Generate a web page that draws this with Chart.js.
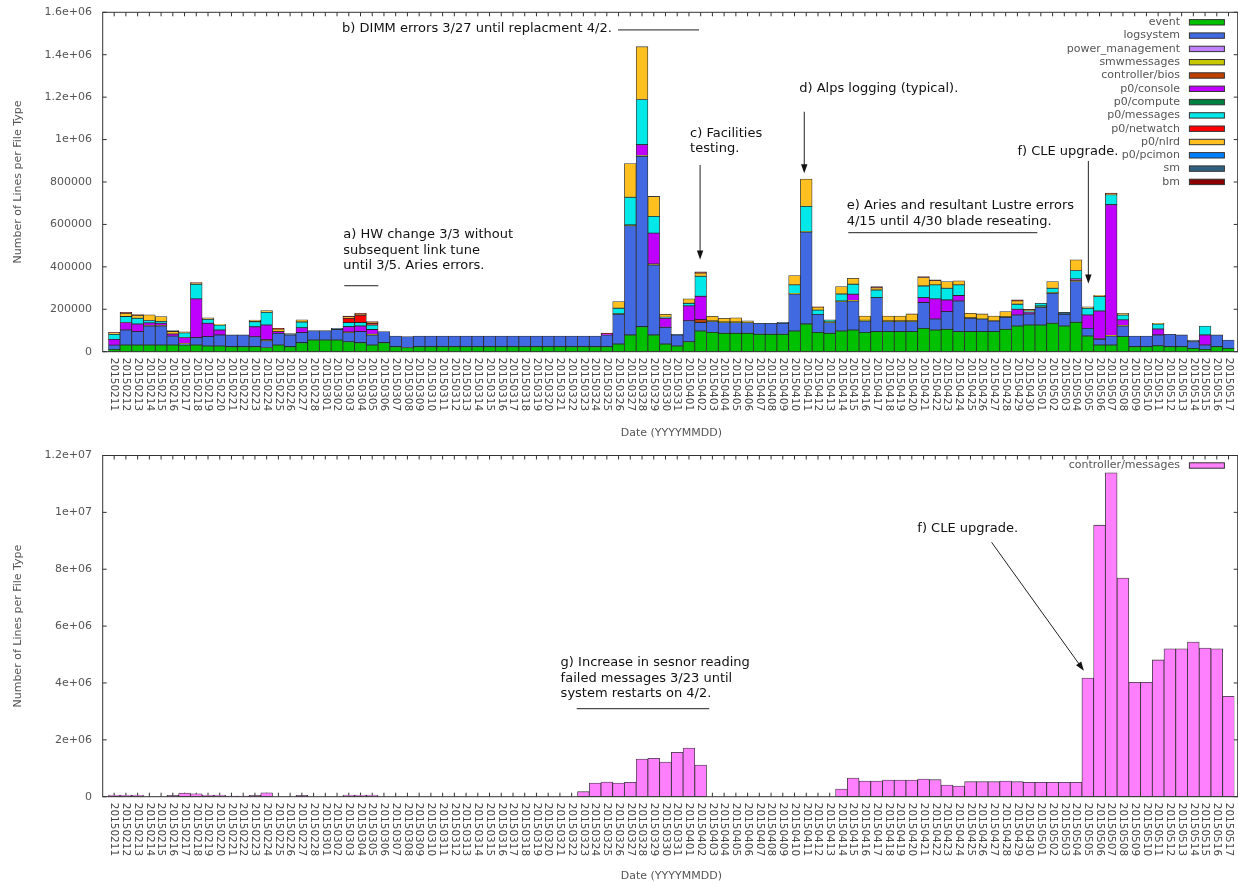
<!DOCTYPE html>
<html>
<head>
<meta charset="utf-8">
<title>Log lines per file type</title>
<script src="https://cdn.jsdelivr.net/npm/chart.js@4.4.1/dist/chart.umd.min.js"></script>
<style>
  html, body { margin: 0; padding: 0; background: #fff; }
  canvas { position: absolute; left: 0; }
  #top { top: 0; }
  #bottom { top: 445px; }
</style>
</head>
<body>
<canvas id="top" width="1238" height="445"></canvas>
<canvas id="bottom" width="1238" height="438"></canvas>
<script>
// one category per day
const dates = [
  '20150211', '20150212', '20150213', '20150214', '20150215', '20150216', '20150217', '20150218', '20150219',
  '20150220', '20150221', '20150222', '20150223', '20150224', '20150225', '20150226', '20150227', '20150228',
  '20150301', '20150302', '20150303', '20150304', '20150305', '20150306', '20150307', '20150308', '20150309',
  '20150310', '20150311', '20150312', '20150313', '20150314', '20150315', '20150316', '20150317', '20150318',
  '20150319', '20150320', '20150321', '20150322', '20150323', '20150324', '20150325', '20150326', '20150327',
  '20150328', '20150329', '20150330', '20150331',
  '20150401', '20150402', '20150403', '20150404', '20150405', '20150406', '20150407', '20150408', '20150409',
  '20150410', '20150411', '20150412', '20150413', '20150414', '20150415', '20150416', '20150417', '20150418',
  '20150419', '20150420', '20150421', '20150422', '20150423', '20150424', '20150425', '20150426', '20150427',
  '20150428', '20150429', '20150430',
  '20150501', '20150502', '20150503', '20150504', '20150505', '20150506', '20150507', '20150508', '20150509',
  '20150510', '20150511', '20150512', '20150513', '20150514', '20150515', '20150516', '20150517'
];

// lines per day for each file type (rows: Feb / Mar / Apr / May)
const event = [
  11000, 31500, 31500, 31500, 31500, 31500, 31000, 31500, 27000, 27000, 23600, 23600, 23600, 20000, 31500, 23600, 42500, 55000,
  55000, 55000, 47000, 42500, 31500, 42500, 23600, 20000, 23600, 23600, 23600, 23600, 23600, 23600, 23600, 23600,
  23600, 23600, 23600, 23600, 23600, 23600, 23600, 23600, 23600, 36000, 79000, 118000, 79000, 36000, 27000,
  47000, 97600, 91000, 86600, 86600, 86600, 82000, 82000, 82000, 97600, 131000, 91000, 86600, 97600, 102000,
  91000, 94500, 94500, 94500, 94500, 110000, 102000, 105500, 94500, 94500, 94500, 94500, 105500, 121000, 126000,
  126000, 134000, 121000, 138600, 74000, 31500, 31500, 71000, 23600, 23600, 28000, 23600, 23600, 15700, 11000, 23600, 15700
];
const logsystem = [
  20000, 71000, 63000, 89500, 89500, 42000, 5000, 34500, 44000, 52000, 55400, 55400, 47000, 32000, 55000, 55000, 47500, 44000,
  44000, 50000, 43000, 52000, 47500, 52000, 50000, 51000, 50400, 50400, 50400, 50400, 50400, 50400, 50400, 50400,
  50400, 50400, 50400, 50400, 50400, 50400, 50400, 50400, 55000, 140000, 515000, 803000, 330000, 79000, 52000,
  99000, 39400, 51000, 50400, 50400, 50400, 52000, 52000, 52000, 174400, 433000, 85000, 50400, 138400, 137000,
  54000, 160500, 47500, 47500, 47500, 121500, 52000, 83500, 144500, 63000, 59500, 50500, 56500, 52000, 52000,
  83000, 141600, 55000, 192400, 36000, 26500, 42500, 50000, 50400, 50400, 51000, 58400, 55400, 31300, 20500, 55400, 39300
];
const powerManagement = [
  0, 0, 0, 0, 0, 0, 0, 0, 0, 0, 0, 0, 0, 0, 0, 0, 0, 0,
  0, 0, 0, 0, 0, 0, 0, 0, 0, 0, 0, 0, 0, 0, 0, 0, 0, 0, 0, 0, 0, 0, 0, 0, 0, 0, 0, 0, 0, 0, 0,
  0, 0, 0, 0, 0, 0, 0, 0, 0, 0, 0, 0, 0, 0, 0, 0, 0, 0, 0, 0, 0, 0, 0, 0, 0, 0, 0, 0, 0, 0,
  0, 0, 0, 0, 0, 0, 0, 0, 0, 0, 0, 0, 0, 0, 0, 0, 0
];
const smwmessages = [
  0, 0, 0, 2000, 2000, 0, 3000, 0, 0, 0, 0, 0, 0, 4000, 0, 0, 0, 0,
  0, 0, 3000, 0, 3000, 0, 0, 0, 0, 0, 0, 0, 0, 0, 0, 0, 0, 0, 0, 0, 0, 0, 0, 0, 0, 3000, 4000, 4000, 4000, 0, 0,
  0, 0, 3000, 3000, 3000, 3000, 0, 0, 0, 3000, 3000, 0, 3000, 3000, 3000, 3000, 0, 3000, 3000, 3000, 0, 0, 0, 0, 3000, 3000, 0, 3000, 0, 0,
  3000, 3000, 0, 4000, 0, 3000, 3000, 3000, 0, 0, 0, 0, 0, 0, 0, 0, 0
];
const controllerBios = [
  0, 0, 0, 0, 0, 0, 0, 0, 0, 0, 0, 0, 0, 0, 0, 0, 0, 0,
  0, 0, 0, 0, 0, 0, 0, 0, 0, 0, 0, 0, 0, 0, 0, 0, 0, 0, 0, 0, 0, 0, 0, 0, 0, 0, 0, 0, 0, 0, 0,
  0, 14000, 0, 0, 0, 0, 0, 0, 0, 0, 0, 0, 0, 0, 0, 0, 0, 0, 0, 0, 0, 0, 0, 0, 0, 0, 0, 0, 0, 0,
  0, 0, 0, 0, 0, 0, 0, 0, 0, 0, 0, 0, 0, 0, 0, 0, 0
];
const p0Console = [
  27000, 35000, 36000, 13000, 11000, 10000, 28000, 183000, 63000, 23000, 0, 0, 47000, 70000, 8000, 0, 23000, 0,
  0, 0, 25000, 26500, 23000, 0, 0, 0, 0, 0, 0, 0, 0, 0, 0, 0, 0, 0, 0, 0, 0, 0, 0, 0, 6000, 0, 0, 51000, 146000, 42500, 0,
  70000, 110000, 0, 0, 0, 0, 0, 0, 0, 0, 0, 0, 0, 0, 29000, 0, 0, 0, 0, 0, 23500, 95000, 55000, 25600, 0, 0, 0, 0, 27000, 8000,
  0, 0, 0, 8000, 63000, 131000, 616000, 26000, 0, 0, 28000, 0, 0, 0, 47500, 0, 0
];
const p0Compute = [
  0, 0, 0, 0, 0, 0, 0, 0, 0, 0, 0, 0, 0, 0, 0, 0, 0, 0,
  0, 0, 0, 0, 0, 0, 0, 0, 0, 0, 0, 0, 0, 0, 0, 0, 0, 0, 0, 0, 0, 0, 0, 0, 0, 0, 0, 0, 0, 0, 0,
  0, 0, 0, 0, 0, 0, 0, 0, 0, 0, 0, 0, 5000, 0, 0, 0, 0, 0, 0, 0, 0, 0, 0, 0, 0, 0, 0, 0, 0, 0,
  4000, 0, 0, 0, 0, 0, 0, 0, 0, 0, 0, 0, 0, 0, 0, 0, 0
];
const p0Messages = [
  24000, 28000, 27000, 11000, 9000, 0, 22000, 69000, 19000, 24000, 0, 0, 24000, 60000, 0, 0, 27000, 0,
  0, 0, 19000, 16000, 20500, 0, 0, 0, 0, 0, 0, 0, 0, 0, 0, 0, 0, 0, 0, 0, 0, 0, 0, 0, 0, 26000, 130000, 213000, 79000, 5000, 0,
  12000, 94500, 0, 0, 0, 0, 0, 0, 0, 40000, 118000, 20000, 5000, 33000, 47000, 0, 36000, 0, 0, 0, 55000, 66000, 55000, 50400, 0, 0, 0, 0, 24000, 7000,
  12000, 20400, 0, 40000, 32000, 68000, 47000, 23000, 0, 0, 24000, 0, 0, 0, 42000, 0, 0
];
const p0Netwatch = [
  0, 0, 0, 0, 0, 0, 0, 0, 0, 0, 0, 0, 0, 0, 0, 0, 0, 0,
  0, 0, 20000, 35000, 8000, 0, 0, 0, 0, 0, 0, 0, 0, 0, 0, 0, 0, 0, 0, 0, 0, 0, 0, 0, 0, 0, 0, 0, 0, 0, 0,
  0, 0, 0, 0, 0, 0, 0, 0, 0, 0, 0, 0, 0, 0, 0, 0, 0, 0, 0, 0, 0, 0, 0, 0, 0, 0, 0, 0, 0, 0,
  0, 0, 0, 0, 0, 0, 0, 0, 0, 0, 0, 0, 0, 0, 0, 0, 0
];
const p0Nlrd = [
  6000, 16000, 14000, 27000, 23000, 12000, 5000, 5000, 7000, 3000, 0, 0, 8000, 8000, 12000, 0, 10000, 0,
  0, 0, 8000, 3000, 5000, 0, 0, 0, 0, 0, 0, 0, 0, 0, 0, 0, 0, 0, 0, 0, 0, 0, 0, 0, 0, 31000, 159000, 249000, 94000, 13500, 0,
  21000, 15000, 22000, 17000, 20000, 5000, 0, 0, 0, 44000, 129000, 14000, 0, 35000, 28000, 20500, 10000, 23500, 23500, 33000,
  40000, 20000, 32000, 19000, 20500, 21000, 23500, 24000, 16000, 5000,
  0, 32000, 0, 50000, 7000, 6000, 5000, 8000, 0, 0, 3000, 0, 0, 0, 0, 0, 0
];
const p0Pcimon = [
  0, 0, 0, 0, 0, 0, 0, 0, 0, 0, 0, 0, 0, 0, 0, 0, 0, 0,
  0, 0, 0, 0, 0, 0, 0, 0, 0, 0, 0, 0, 0, 0, 0, 0, 0, 0, 0, 0, 0, 0, 0, 0, 0, 0, 0, 0, 0, 0, 0,
  0, 0, 0, 0, 0, 0, 0, 0, 0, 0, 0, 0, 0, 0, 0, 0, 0, 0, 0, 0, 0, 0, 0, 0, 0, 0, 0, 0, 0, 0,
  0, 0, 0, 0, 0, 0, 0, 0, 0, 0, 0, 0, 0, 0, 0, 0, 0
];
const sm = [
  0, 0, 0, 0, 0, 4000, 0, 0, 0, 0, 0, 0, 0, 0, 0, 7000, 0, 0,
  0, 5000, 0, 0, 0, 0, 0, 0, 0, 0, 0, 0, 0, 0, 0, 0, 0, 0, 0, 0, 0, 0, 0, 0, 0, 0, 0, 0, 0, 0, 3000,
  0, 0, 0, 0, 0, 0, 0, 0, 5000, 0, 0, 0, 0, 0, 0, 0, 0, 0, 0, 0, 0, 0, 0, 0, 0, 0, 0, 0, 0, 0,
  0, 0, 10000, 0, 0, 0, 0, 0, 0, 0, 0, 0, 0, 8000, 0, 0, 0
];
const bm = [
  3000, 4000, 3000, 0, 0, 0, 0, 3000, 0, 0, 0, 0, 0, 0, 4000, 0, 0, 0,
  0, 0, 3000, 6000, 3000, 0, 0, 0, 0, 0, 0, 0, 0, 0, 0, 0, 0, 0, 0, 0, 0, 0, 0, 0, 3000, 0, 0, 0, 0, 0, 0,
  0, 5500, 0, 0, 0, 0, 0, 0, 0, 0, 0, 2000, 0, 0, 0, 0, 6000, 0, 0, 0, 4000, 4000, 0, 0, 0, 0, 0, 0, 4000, 2000,
  0, 0, 0, 0, 0, 0, 3000, 0, 0, 0, 0, 0, 0, 0, 0, 0, 0
];
const controllerMessages = [
  60000, 55000, 55000, 0, 0, 45000, 130000, 105000, 60000, 55000, 20000, 20000, 50000, 140000, 0, 0, 50000, 0,
  0, 0, 55000, 55000, 55000, 0, 0, 0, 0, 0, 0, 0, 0, 0, 0, 0, 0, 0, 0, 0, 0, 0,
  176000, 481000, 516000, 481000, 505000, 1326000, 1350000, 1220000, 1560000,
  1710000, 1115000, 0, 0, 0, 0, 0, 0, 0, 0, 0, 0, 0, 270000, 657000, 552000, 552000, 587000, 587000, 586000,
  622000, 598000, 410000, 375000, 528000, 528000, 528000, 551000, 528000, 504000,
  504000, 504000, 504000, 504000, 4176000, 9550000, 11390000, 7690000, 4020000, 4020000, 4810000, 5200000, 5200000,
  5440000, 5230000, 5200000, 3530000
];

const fileTypes = [
  ['event', event, '#00c000'],
  ['logsystem', logsystem, '#4169e1'],
  ['power_management', powerManagement, '#c080ff'],
  ['smwmessages', smwmessages, '#c8c800'],
  ['controller/bios', controllerBios, '#c04000'],
  ['p0/console', p0Console, '#c000ff'],
  ['p0/compute', p0Compute, '#008040'],
  ['p0/messages', p0Messages, '#00e8e8'],
  ['p0/netwatch', p0Netwatch, '#ff0000'],
  ['p0/nlrd', p0Nlrd, '#ffc020'],
  ['p0/pcimon', p0Pcimon, '#0080ff'],
  ['sm', sm, '#306080'],
  ['bm', bm, '#8b0000']
];

// annotation text, underlines and arrows, placed in data units (x = day index)
const topNotes = {
  text: [
    { lines: ['b) DIMM errors 3/27 until replacment 4/2.'], x: 19.43, y: 1522000 },
    { lines: ['a) HW change 3/3 without', 'subsequent link tune', 'until 3/5. Aries errors.'], x: 19.53, y: 550000 },
    { lines: ['c) Facilities', 'testing.'], x: 49.1, y: 1029000 },
    { lines: ['d) Alps logging (typical).'], x: 58.4, y: 1242000 },
    { lines: ['e) Aries and resultant Lustre errors', '4/15 until 4/30 blade reseating.'], x: 62.45, y: 687000 },
    { lines: ['f) CLE upgrade.'], x: 77.0, y: 943000 }
  ],
  rules: [
    { x1: 42.95, x2: 49.86, y: 1517000 },
    { x1: 19.62, x2: 22.52, y: 311000 },
    { x1: 62.58, x2: 78.7, y: 561000 }
  ],
  arrows: [
    { x1: 49.95, y1: 880000, x2: 49.95, y2: 435000 },
    { x1: 58.83, y1: 1131000, x2: 58.83, y2: 841000 },
    { x1: 83.05, y1: 899000, x2: 83.05, y2: 322000 }
  ]
};
const bottomNotes = {
  text: [
    { lines: ['f) CLE upgrade.'], x: 68.47, y: 9415000 },
    { lines: ['g) Increase in sesnor reading', 'failed messages 3/23 until', 'system restarts on 4/2.'], x: 38.06, y: 4713000 }
  ],
  rules: [
    { x1: 39.43, x2: 50.73, y: 3095000 }
  ],
  arrows: [
    { x1: 74.8, y1: 8947000, x2: 82.67, y2: 4430000 }
  ]
};

const FONT = '"DejaVu Sans", Verdana, sans-serif';
Chart.defaults.font.family = FONT;
Chart.defaults.animation = false;

// gnuplot style %g labels: 200000, 1e+06, 1.6e+06 ...
function gnuNum(v) {
  v = Math.round(v);
  if (v === 0) return '0';
  if (v < 1e6) return String(v);
  const exp = Math.floor(Math.log10(v) + 1e-9);
  const mant = +(v / Math.pow(10, exp)).toPrecision(6);
  return mant + 'e+' + String(exp).padStart(2, '0');
}

function drawArrow(ctx, x1, y1, x2, y2) {
  const ang = Math.atan2(y2 - y1, x2 - x1);
  const len = 9, half = 3.2;
  ctx.beginPath();
  ctx.moveTo(x1, y1);
  ctx.lineTo(x2 - Math.cos(ang) * len * 0.6, y2 - Math.sin(ang) * len * 0.6);
  ctx.stroke();
  ctx.beginPath();
  ctx.moveTo(x2, y2);
  ctx.lineTo(x2 - Math.cos(ang) * len - Math.sin(ang) * half, y2 - Math.sin(ang) * len + Math.cos(ang) * half);
  ctx.lineTo(x2 - Math.cos(ang) * len + Math.sin(ang) * half, y2 - Math.sin(ang) * len - Math.cos(ang) * half);
  ctx.closePath();
  ctx.fill();
}

// border box with inward ticks, tick labels, key inside the plot, notes and rotated dates
function gnuOverlay(notes) {
  const padL = 5.6, padR = 3.3, tick = 4;
  return {
    id: 'gnuOverlay',
    beforeDatasetsDraw(chart) {
      const { ctx, chartArea: a, scales: { x, y } } = chart;
      const left = a.left - padL, right = a.right + padR;
      ctx.save();
      ctx.strokeStyle = '#333';
      ctx.lineWidth = 1;
      ctx.beginPath();
      dates.forEach((d, i) => {
        const px = x.getPixelForValue(i);
        ctx.moveTo(px, a.bottom); ctx.lineTo(px, a.bottom - tick);
        ctx.moveTo(px, a.top); ctx.lineTo(px, a.top + tick);
      });
      y.ticks.forEach(t => {
        const py = y.getPixelForValue(t.value);
        ctx.moveTo(left, py); ctx.lineTo(left + tick, py);
        ctx.moveTo(right, py); ctx.lineTo(right - tick, py);
      });
      ctx.stroke();

      // y tick labels, right aligned against the frame
      ctx.fillStyle = '#555';
      ctx.font = '11px ' + FONT;
      ctx.textAlign = 'right';
      ctx.textBaseline = 'middle';
      y.ticks.forEach(t => {
        ctx.fillText(gnuNum(t.value), left - 10.8, y.getPixelForValue(t.value));
      });
      ctx.restore();
    },
    afterDatasetsDraw(chart) {
      const { ctx, chartArea: a, scales: { x, y } } = chart;
      ctx.save();
      ctx.strokeStyle = '#333';
      ctx.lineWidth = 1;
      ctx.strokeRect(a.left - padL, a.top, a.right - a.left + padL + padR, a.bottom - a.top);

      // key
      ctx.font = '11px ' + FONT;
      ctx.textAlign = 'right';
      ctx.textBaseline = 'middle';
      chart.data.datasets.forEach((ds, k) => {
        const cy = a.top + 10 + k * 13.3;
        ctx.fillStyle = ds.backgroundColor;
        ctx.fillRect(a.right - 45, cy - 2.7, 35, 5.4);
        ctx.strokeStyle = '#333';
        ctx.strokeRect(a.right - 45, cy - 2.7, 35, 5.4);
        ctx.fillStyle = '#555';
        ctx.fillText(ds.label, a.right - 54.4, cy);
      });

      // notes
      ctx.fillStyle = '#111';
      ctx.strokeStyle = '#222';
      ctx.font = '13px ' + FONT;
      ctx.textAlign = 'left';
      notes.text.forEach(n => {
        const px = x.getPixelForValue(n.x), py = y.getPixelForValue(n.y);
        n.lines.forEach((s, j) => ctx.fillText(s, px, py + j * 15.5));
      });
      notes.rules.forEach(r => {
        const py = y.getPixelForValue(r.y);
        ctx.beginPath();
        ctx.moveTo(x.getPixelForValue(r.x1), py);
        ctx.lineTo(x.getPixelForValue(r.x2), py);
        ctx.stroke();
      });
      notes.arrows.forEach(r => {
        drawArrow(ctx, x.getPixelForValue(r.x1), y.getPixelForValue(r.y1),
                  x.getPixelForValue(r.x2), y.getPixelForValue(r.y2));
      });
      ctx.restore();
    },
    afterDraw(chart) {
      const { ctx, chartArea: a, scales: { x } } = chart;
      ctx.save();
      ctx.fillStyle = '#444';
      ctx.font = '10.5px ' + FONT;
      ctx.textAlign = 'left';
      ctx.textBaseline = 'middle';
      dates.forEach((d, i) => {
        ctx.save();
        ctx.translate(x.getPixelForValue(i), a.bottom + 6);
        ctx.rotate(Math.PI / 2);
        ctx.fillText(d, 0, 0);
        ctx.restore();
      });
      ctx.restore();
    }
  };
}

function axes(yMax, yStep, xHeight, titlePad) {
  return {
    x: {
      stacked: true,
      grid: { display: false },
      border: { display: false },
      ticks: { display: false },
      title: { display: true, text: 'Date (YYYYMMDD)', color: '#555', font: { size: 11 }, padding: { top: 0, bottom: titlePad } },
      afterFit: s => { s.height = xHeight; }
    },
    y: {
      stacked: true,
      min: 0,
      max: yMax,
      grid: { display: false, drawTicks: false },
      border: { display: false },
      ticks: { display: false, stepSize: yStep },
      title: { display: true, text: 'Number of Lines per File Type', color: '#555', font: { size: 11 }, padding: { top: 11.4, bottom: 0 } },
      afterFit: s => { s.width = 108.3; }
    }
  };
}

const barStyle = {
  borderColor: 'rgba(20,20,20,0.85)',
  borderWidth: 0.8,
  borderSkipped: false,
  barPercentage: 1,
  categoryPercentage: 1
};

new Chart(document.getElementById('top'), {
  type: 'bar',
  data: {
    labels: dates,
    datasets: fileTypes.map(([label, values, color]) => Object.assign({
      label,
      data: values.map(v => v || null),
      backgroundColor: color
    }, barStyle))
  },
  options: {
    responsive: false,
    devicePixelRatio: 1,
    layout: { padding: { left: 0, right: 3.6, top: 12.3, bottom: 0 } },
    plugins: { legend: { display: false }, tooltip: { enabled: false } },
    scales: axes(1600000, 200000, 445 - 351.7, 5.4)
  },
  plugins: [gnuOverlay(topNotes)]
});

new Chart(document.getElementById('bottom'), {
  type: 'bar',
  data: {
    labels: dates,
    datasets: [Object.assign({
      label: 'controller/messages',
      data: controllerMessages.map(v => v || null),
      backgroundColor: '#ff80ff'
    }, barStyle)]
  },
  options: {
    responsive: false,
    devicePixelRatio: 1,
    layout: { padding: { left: 0, right: 3.6, top: 10.5, bottom: 0 } },
    plugins: { legend: { display: false }, tooltip: { enabled: false } },
    scales: axes(12000000, 2000000, 438 - 351.7, 0)
  },
  plugins: [gnuOverlay(bottomNotes)]
});
</script>
</body>
</html>
